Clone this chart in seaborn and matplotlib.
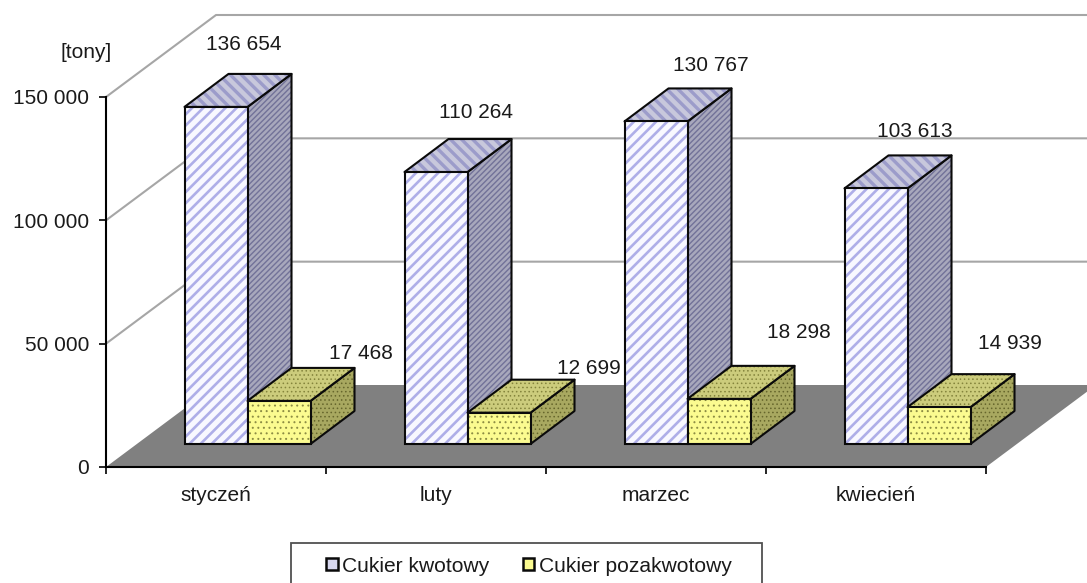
import numpy as np
import pandas as pd
import matplotlib
matplotlib.use('Agg')
import matplotlib.pyplot as plt
import seaborn as sns
from matplotlib.patches import Polygon, Rectangle, Patch

months = ['styczeń', 'luty', 'marzec', 'kwiecień']
series_names = ['Cukier kwotowy', 'Cukier pozakwotowy']
kwotowy = [136654, 110264, 130767, 103613]
pozakwotowy = [17468, 12699, 18298, 14939]
y_ticks = [0, 50000, 100000, 150000]

# hand placed label offsets in pixels from the bar's front top centre
kwotowy_offsets = [(28, 62), (40, 60), (55, 56), (39, 57)]
pozakwotowy_offsets = [(82, 47), (90, 44), (80, 66), (71, 64)]

Y_MAX = 150000
PX_X = 1 / 220        # one pixel in category units
PX_Y = Y_MAX / 370    # one pixel in value units
WALL_DX, WALL_DY = 110 * PX_X, 82 * PX_Y
BAR_DX, BAR_DY = 44 * PX_X, 33 * PX_Y
SHIFT_X, SHIFT_Y = 31.5 * PX_X, 23 * PX_Y

# front, top, side: (face, hatch colour)
blue_style = [('#f8f8ff', '#aeaee8'), ('#c8c8dc', '#9c9cca'), ('#a8a8bc', '#727298')]
yellow_style = [('#fbfb90', '#8c8c44'), ('#cccc7c', '#84843c'), ('#a8a860', '#66662c')]
FONT = 'Liberation Sans'
FS = 15
TEXT = '#1a1a1a'


def fmt(v):
    return f'{v:,}'.replace(',', ' ')


def hatched(artist, hatch, lw):
    artist.set_hatch(hatch)
    artist.set_hatch_linewidth(lw)


def face(ax, pts, style, hatch, lw, z):
    p = Polygon(pts, closed=True, facecolor=style[0], edgecolor=style[1], lw=0, clip_on=False, zorder=z)
    hatched(p, hatch, lw)
    ax.add_patch(p)
    ax.add_patch(Polygon(pts, closed=True, fill=False, edgecolor='#0a0a0a', lw=1.5,
                         joinstyle='round', clip_on=False, zorder=z + 0.1))


def main():
    sns.set_style('white')
    plt.rcParams['font.family'] = [FONT, 'DejaVu Sans']

    df = pd.DataFrame({
        'month': months * 2,
        'series': [series_names[0]] * 4 + [series_names[1]] * 4,
        'value': kwotowy + pozakwotowy,
    })

    fig = plt.figure(figsize=(10.87, 5.83), dpi=100)
    ax = fig.add_axes([106 / 1087, (583 - 467) / 583, 880 / 1087, 370 / 583])
    ax.patch.set_alpha(0)

    sns.barplot(data=df, x='month', y='value', hue='series', order=months, hue_order=series_names,
                palette=[blue_style[0][0], yellow_style[0][0]], saturation=1, width=126 / 220,
                gap=0, legend=False, ax=ax)
    ax.set_xlim(-0.5, 3.5)
    ax.set_ylim(0, Y_MAX)

    # floor and walls
    x0, x1 = -0.5, 3.5
    ax.add_patch(Polygon([(x0, 0), (x1, 0), (x1 + WALL_DX, WALL_DY), (x0 + WALL_DX, WALL_DY)],
                         facecolor='#808080', edgecolor='none', clip_on=False, zorder=0.5))
    for t in y_ticks[1:]:
        ax.plot([x0, x0 + WALL_DX, x1 + WALL_DX], [t, t + WALL_DY, t + WALL_DY],
                color='#a6a6a6', lw=1.5, clip_on=False, zorder=0.6)

    # turn the flat bars into boxes, left to right so nearer faces cover the others
    styles = [blue_style, yellow_style]
    hatches = [('///', '\\\\\\', '//////'), ('...', '....', '....')]
    hatch_lw = [(1.9, 2.4, 1.0), (0.7, 0.6, 0.6)]
    offsets = [kwotowy_offsets, pozakwotowy_offsets]
    values = [kwotowy, pozakwotowy]
    for s, container in enumerate(ax.containers):
        style = styles[s]
        for m, bar in enumerate(container):
            x = bar.get_x() + SHIFT_X
            w = bar.get_width()
            h = bar.get_height()
            y = SHIFT_Y
            z = 2 + m + s * 0.5
            bar.set_x(x)
            bar.set_y(y)
            bar.set_edgecolor(style[0][1])
            hatched(bar, hatches[s][0], hatch_lw[s][0])
            bar.set_linewidth(0)
            bar.set_clip_on(False)
            bar.set_zorder(z + 0.3)
            ax.add_patch(Rectangle((x, y), w, h, fill=False, edgecolor='#0a0a0a', lw=1.5,
                                   clip_on=False, zorder=z + 0.4))
            face(ax, [(x + w, y), (x + w + BAR_DX, y + BAR_DY), (x + w + BAR_DX, y + h + BAR_DY),
                      (x + w, y + h)], style[2], hatches[s][2], hatch_lw[s][2], z)
            face(ax, [(x, y + h), (x + w, y + h), (x + w + BAR_DX, y + h + BAR_DY),
                      (x + BAR_DX, y + h + BAR_DY)], style[1], hatches[s][1], hatch_lw[s][1], z + 0.15)
            ax.annotate(fmt(values[s][m]), (x + w / 2, y + h), xytext=offsets[s][m],
                        textcoords='offset pixels', ha='center', va='center', fontsize=FS,
                        color=TEXT, annotation_clip=False, zorder=20)

    # axes
    sns.despine(ax=ax)
    for side in ['left', 'bottom']:
        ax.spines[side].set_color('black')
        ax.spines[side].set_linewidth(1.5)
        ax.spines[side].set_zorder(10)
    ax.set_xlabel('')
    ax.set_ylabel('')
    ax.set_yticks(y_ticks)
    ax.set_yticklabels([fmt(t) for t in y_ticks], fontsize=FS, color=TEXT)
    ax.set_xticks(np.arange(-0.5, 4), labels=[''] * 5)
    ax.set_xticks(range(4), labels=months, minor=True, fontsize=FS, color=TEXT)
    ax.tick_params(axis='y', which='major', left=True, length=5, width=1.2, color='black', pad=7)
    ax.tick_params(axis='x', which='major', bottom=True, length=5, width=1.2, color='black')
    ax.tick_params(axis='x', which='minor', bottom=False, length=0, pad=14)

    fig.text(86 / 1087, 1 - 52 / 583, '[tony]', ha='center', va='center', fontsize=FS, color=TEXT)

    # legend frame runs off the bottom of the canvas, so it is drawn on its own
    fig.add_artist(Rectangle((291 / 1087, -0.01), (762 - 291) / 1087, (583 - 543) / 583 + 0.01,
                             transform=fig.transFigure, facecolor='white', edgecolor='#505050', lw=1.3))
    handles = [Patch(facecolor='#d8d8f0', edgecolor='#0a0a0a', lw=1.8, label=series_names[0]),
               Patch(facecolor=yellow_style[0][0], edgecolor='#0a0a0a', lw=1.8, label=series_names[1])]
    fig.legend(handles=handles, ncol=2, loc='center left',
               bbox_to_anchor=(326 / 1087, 1 - 566 / 583), bbox_transform=fig.transFigure,
               fontsize=FS + 0.1, frameon=False, handlelength=0.55, handleheight=0.55,
               handletextpad=0.2, columnspacing=1.62, borderpad=0, borderaxespad=0,
               labelcolor=TEXT)

    fig.savefig('out.png', dpi=100)


if __name__ == '__main__':
    main()
